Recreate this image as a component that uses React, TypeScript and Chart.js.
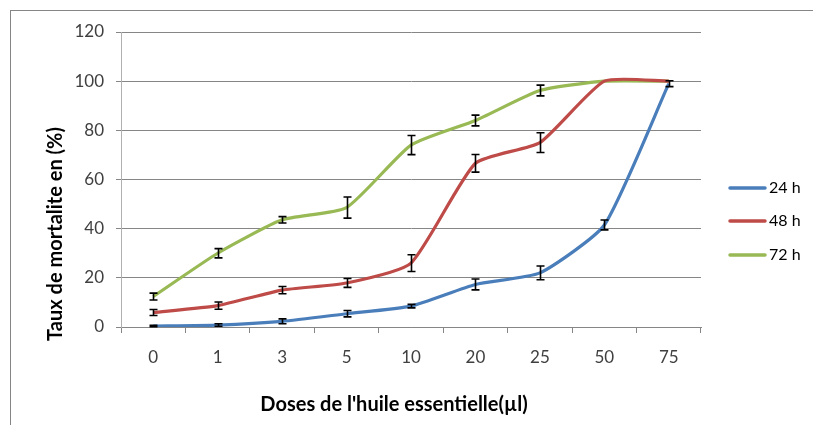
import React, { useEffect, useRef } from "react";
import { Chart, registerables } from "chart.js";

Chart.register(...registerables);

const doses = ["0", "1", "3", "5", "10", "20", "25", "50", "75"];
const seriesNames = ["24 h", "48 h", "72 h"];
const values24 = [0.4, 0.8, 2.3, 5.4, 8.5, 17.3, 22, 41.5, 99];
const values48 = [5.9, 8.7, 15, 17.9, 26, 66.6, 75, 100, 100];
const values72 = [12.4, 30, 43.6, 48.6, 74, 84, 96.2, 100, 100];
const errors24 = [0.3, 0.5, 1, 1.3, 0.7, 2.2, 2.8, 2, 1.2];
const errors48 = [1.2, 1.5, 1.5, 1.8, 3.4, 3.6, 4, 0, 0];
const errors72 = [1.4, 1.9, 1.3, 4.3, 3.9, 2.2, 2.2, 0, 0];
const colors = ["#4A7EBB", "#BE4B48", "#98B954"];
const yTicks = [0, 20, 40, 60, 80, 100, 120];
const xTitle = "Doses de l'huile essentielle(\u00b5l)";
const yTitle = "Taux de mortalite en (%)";

const FONT = "Lato, 'Open Sans', 'DejaVu Sans', sans-serif";

export default function App() {
  const ref = useRef<HTMLCanvasElement | null>(null);
  useEffect(() => {
    if (!ref.current) return;
    const errorSets = [errors24, errors48, errors72];
    const decor = {
      id: "decor",
      beforeDraw(chart: any) {
        const ctx = chart.ctx;
        ctx.save();
        ctx.fillStyle = "#ffffff";
        ctx.fillRect(0, 0, chart.width, chart.height);
        ctx.strokeStyle = "#868686";
        ctx.lineWidth = 1;
        ctx.strokeRect(10.5, 10.5, 900, 600);
        ctx.restore();
      },
      afterDatasetsDraw(chart: any) {
        const ctx = chart.ctx;
        const xs = chart.scales.x;
        const ys = chart.scales.y;
        ctx.save();
        ctx.strokeStyle = "#000000";
        ctx.lineWidth = 1.6;
        chart.data.datasets.forEach((ds: any, di: number) => {
          const errs = errorSets[di];
          ds.data.forEach((v: number, i: number) => {
            const e = errs[i];
            if (!e) return;
            const x = Math.round(xs.getPixelForValue(i)) + 0.5;
            const y1 = ys.getPixelForValue(v - e);
            const y2 = ys.getPixelForValue(v + e);
            ctx.beginPath();
            ctx.moveTo(x, y1);
            ctx.lineTo(x, y2);
            ctx.moveTo(x - 4, y1);
            ctx.lineTo(x + 4, y1);
            ctx.moveTo(x - 4, y2);
            ctx.lineTo(x + 4, y2);
            ctx.stroke();
          });
        });
        ctx.restore();
      },
      afterDraw(chart: any) {
        const ctx = chart.ctx;
        ctx.save();
        // axis titles
        ctx.fillStyle = "#000000";
        ctx.font = `bold 20px ${FONT}`;
        ctx.textAlign = "center";
        ctx.textBaseline = "middle";
        ctx.fillText(xTitle, 394, 405);
        ctx.translate(56, 234);
        ctx.rotate(-Math.PI / 2);
        ctx.fillText(yTitle, 0, 0);
        ctx.restore();
        // legend
        ctx.save();
        ctx.font = `16px ${FONT}`;
        ctx.textAlign = "left";
        ctx.textBaseline = "middle";
        const rows = [188, 221, 255];
        chart.data.datasets.forEach((ds: any, i: number) => {
          ctx.strokeStyle = colors[i];
          ctx.lineWidth = 3.5;
          ctx.lineCap = "round";
          ctx.beginPath();
          ctx.moveTo(730, rows[i]);
          ctx.lineTo(765, rows[i]);
          ctx.stroke();
          ctx.fillStyle = "#000000";
          ctx.fillText(ds.label, 769, rows[i]);
        });
        ctx.restore();
      },
    };

    const chart = new Chart(ref.current, {
      type: "line",
      data: {
        labels: doses,
        datasets: [values24, values48, values72].map((vals, i) => ({
          label: seriesNames[i],
          data: vals,
          borderColor: colors[i],
          backgroundColor: colors[i],
          borderWidth: 3.2,
          pointRadius: 0,
          tension: 0.18,
          fill: false,
        })),
      },
      options: {
        responsive: false,
        animation: false,
        layout: { padding: { left: 0, top: 32, right: 112, bottom: 0 } },
        plugins: {
          legend: { display: false },
          tooltip: { enabled: false },
        },
        scales: {
          x: {
            type: "category",
            offset: true,
            afterFit: (s: any) => {
              s.height = 98;
            },
            grid: {
              offset: true,
              drawOnChartArea: false,
              drawTicks: true,
              tickLength: 6,
              color: "#868686",
            },
            border: { display: true, color: "#868686", width: 1 },
            ticks: {
              padding: 14,
              color: "#404040",
              font: { family: FONT, size: 17 },
              maxRotation: 0,
            },
          },
          y: {
            min: 0,
            max: 120,
            afterFit: (s: any) => {
              s.width = 121;
            },
            afterBuildTicks: (s: any) => {
              s.ticks = yTicks.map((v) => ({ value: v }));
            },
            grid: {
              color: "#868686",
              drawTicks: true,
              tickLength: 5,
            },
            border: { display: true, color: "#B0B0B0", width: 1 },
            ticks: {
              padding: 12,
              color: "#404040",
              font: { family: FONT, size: 17 },
            },
          },
        },
      },
      plugins: [decor],
    });
    return () => chart.destroy();
  }, []);

  return (
    <div style={{ position: "fixed", left: 0, top: 0, width: 813, height: 425, background: "#fff" }}>
      <canvas ref={ref} width={813} height={425} style={{ display: "block", width: 813, height: 425 }} />
    </div>
  );
}
